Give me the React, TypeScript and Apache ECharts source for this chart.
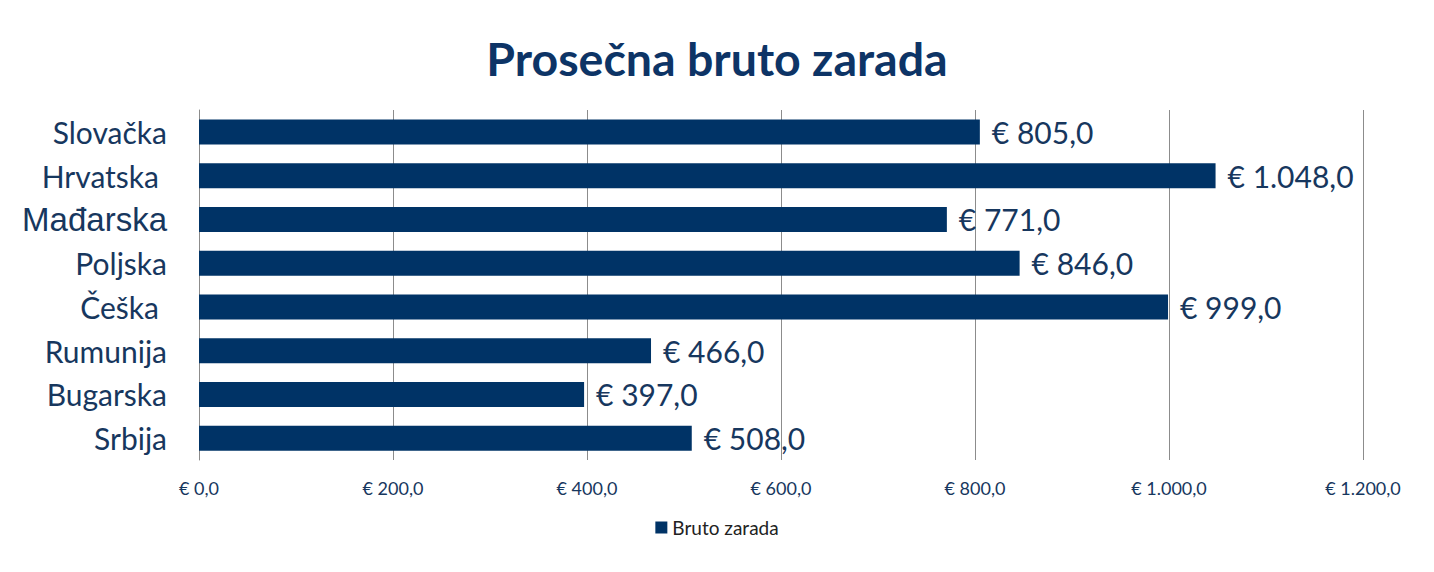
import React, { useEffect, useRef } from "react";
import * as echarts from "echarts";

const categories = ["Slovačka", "Hrvatska", "Mađarska", "Poljska", "Češka", "Rumunija", "Bugarska", "Srbija"];
const values = [805, 1048, 771, 846, 999, 466, 397, 508];
const seriesName = "Bruto zarada";
const titleText = "Prosečna bruto zarada";
const xMin = 0;
const xMax = 1200;
const xInterval = 200;

function fmtEuro(v: number): string {
  const fixed = v.toFixed(1);
  const [intPart, dec] = fixed.split(".");
  const withSep = intPart.replace(/\B(?=(\d{3})+(?!\d))/g, ".");
  return "€ " + withSep + "," + dec;
}

export default function App() {
  const ref = useRef<HTMLDivElement>(null);
  useEffect(() => {
    if (!ref.current) return;
    const chart = echarts.init(ref.current, undefined, { renderer: "svg" });
    const navy = "#003366";
    const textNavy = "#17375E";
    chart.setOption({
      animation: false,
      backgroundColor: "#ffffff",
      title: {
        text: titleText,
        left: "center",
        top: 29,
        textStyle: { fontFamily: "Lato", fontWeight: "bold", fontSize: 46.5, color: "#0D3466" },
      },
      legend: {
        bottom: 30,
        left: "center",
        icon: "rect",
        itemWidth: 12,
        itemHeight: 12,
        itemGap: 6,
        textStyle: { fontFamily: "Lato", fontSize: 19, color: "#222222" },
        data: [seriesName],
      },
      grid: { left: 199, right: 71, top: 110, bottom: 112, containLabel: false },
      xAxis: {
        type: "value",
        min: xMin,
        max: xMax,
        interval: xInterval,
        axisLine: { show: false },
        axisTick: { show: false },
        splitLine: { show: true, lineStyle: { color: "#8c8c8c", width: 1 } },
        axisLabel: {
          formatter: (v: number) => fmtEuro(v),
          fontFamily: "Lato",
          fontSize: 18,
          color: textNavy,
          margin: 19,
        },
      },
      yAxis: {
        type: "category",
        data: categories,
        inverse: true,
        axisLine: { show: true, lineStyle: { color: "#8c8c8c", width: 1 } },
        axisTick: { show: false },
        axisLabel: {
          margin: 32,
          fontFamily: "Lato",
          fontSize: 30,
          color: textNavy,
          formatter: (v: string) => {
            if (v === "Mađarska") return "{alt|" + v + "}";
            if (v === "Hrvatska" || v === "Češka") return "{pad|" + v + "}";
            return v;
          },
          rich: {
            alt: { fontFamily: "Liberation Sans", fontSize: 33, color: textNavy },
            pad: { fontFamily: "Lato", fontSize: 30, color: textNavy, padding: [0, 8, 0, 0] },
          },
        },
      },
      series: [
        {
          name: seriesName,
          type: "bar",
          data: values,
          barWidth: 25,
          itemStyle: { color: navy },
          label: {
            show: true,
            position: "right",
            distance: 12,
            formatter: (p: any) => fmtEuro(p.value),
            fontFamily: "Lato",
            fontSize: 30,
            color: textNavy,
          },
        },
      ],
    });
    return () => chart.dispose();
  }, []);
  return (
    <div
      ref={ref}
      style={{ position: "fixed", left: 0, top: 0, width: 1434, height: 572 }}
    />
  );
}
